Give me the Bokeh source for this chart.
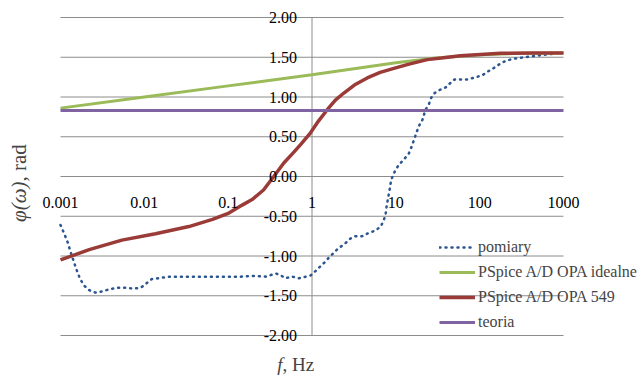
import math
from bokeh.plotting import figure
from bokeh.models import Range1d, Legend, LegendItem, Label, LabelSet, ColumnDataSource
from bokeh.core.properties import value
from bokeh.embed import file_html
from bokeh.resources import INLINE

# ---------------- data ----------------
pom_f = [0.001, 0.00112, 0.00123, 0.00131, 0.00144, 0.00155, 0.0017, 0.0019,
         0.0022, 0.0026, 0.003, 0.0035, 0.0042, 0.0049, 0.0059, 0.0074,
         0.0089, 0.01, 0.0112, 0.0123, 0.0148, 0.0195, 0.027, 0.037,
         0.05, 0.07, 0.1, 0.14, 0.2, 0.28, 0.37, 0.42,
         0.48, 0.58, 0.70, 0.84, 0.96, 1.10, 1.26, 1.45,
         1.59, 1.82, 2.03, 2.29, 2.63, 2.88, 3.3, 3.98,
         4.76, 5.72, 6.57, 7.07, 7.54, 7.75, 8.03, 8.48,
         8.81, 9.31, 9.91, 10.9, 12.4, 14.3, 15.5, 16.7,
         18.3, 19.7, 20.7, 22.6, 24.8, 26.4, 29.0, 33.5,
         39.2, 44.1, 50.1, 60.3, 71.1, 83.9, 97.8, 110,
         125, 145, 165, 191, 213, 252, 294, 344,
         405, 487, 584, 689, 805]
pom_phi = [-0.61, -0.73, -0.84, -0.94, -1.07, -1.17, -1.28, -1.37,
           -1.43, -1.46, -1.45, -1.43, -1.41, -1.40, -1.40, -1.41,
           -1.40, -1.37, -1.32, -1.29, -1.28, -1.26, -1.26, -1.26,
           -1.26, -1.26, -1.26, -1.26, -1.25, -1.26, -1.22, -1.24,
           -1.28, -1.26, -1.28, -1.26, -1.245, -1.19, -1.13, -1.07,
           -1.02, -0.96, -0.91, -0.87, -0.82, -0.78, -0.75, -0.75,
           -0.71, -0.68, -0.63, -0.57, -0.48, -0.38, -0.29, -0.15,
           -0.04, 0.02, 0.08, 0.15, 0.21, 0.29, 0.38, 0.48,
           0.60, 0.68, 0.71, 0.84, 0.91, 0.99, 1.05, 1.09,
           1.12, 1.17, 1.22, 1.22, 1.22, 1.24, 1.26, 1.28,
           1.32, 1.36, 1.40, 1.44, 1.46, 1.48, 1.49, 1.50,
           1.51, 1.52, 1.53, 1.54, 1.54]

ideal_f = [0.001, 0.01, 0.1, 1, 10, 30, 100, 300, 1000]
ideal_phi = [0.86, 1.00, 1.14, 1.28, 1.43, 1.49, 1.53, 1.55, 1.555]

opa_f = [0.001, 0.0022, 0.0054, 0.0136, 0.034, 0.065, 0.102, 0.147, 0.193,
         0.264, 0.35, 0.461, 0.6, 0.73, 0.96, 1.2, 1.52, 1.9, 2.4, 3.2,
         4.56, 6.5, 9.47, 14, 23.7, 35, 59, 177, 443, 1000]
opa_phi = [-1.05, -0.92, -0.80, -0.72, -0.63, -0.54, -0.46, -0.36, -0.29,
           -0.17, 0.00, 0.17, 0.30, 0.40, 0.55, 0.70, 0.84, 0.96, 1.05, 1.15,
           1.24, 1.31, 1.36, 1.41, 1.47, 1.49, 1.52, 1.55, 1.555, 1.555]

teoria_f = [0.001, 1000]
teoria_phi = [0.83, 0.83]

x_ticks = [0.001, 0.01, 0.1, 1, 10, 100, 1000]
x_tick_labels = ["0.001", "0.01", "0.1", "1", "10", "100", "1000"]
y_ticks = [2.0, 1.5, 1.0, 0.5, 0.0, -0.5, -1.0, -1.5, -2.0]
y_tick_labels = ["2.00", "1.50", "1.00", "0.50", "0.00", "-0.50", "-1.00", "-1.50", "-2.00"]

series_names = ["pomiary", "PSpice A/D OPA idealne", "PSpice A/D OPA 549", "teoria"]

X_MIN, X_MAX = 0.001, 1000
Y_MIN, Y_MAX = -2.0, 2.0
X_CROSS, Y_CROSS = 1, 0

FONT = "Liberation Serif"
GRID = "#8c8c8c"

# ---------------- layout (pixels) ----------------
W, H = 641, 376
PLOT_L, PLOT_R, PLOT_T, PLOT_B = 60, 563, 17, 335     # plot-area box inside canvas
px_per_dec = (PLOT_R - PLOT_L) / math.log10(X_MAX / X_MIN)
px_per_unit = (PLOT_B - PLOT_T) / (Y_MAX - Y_MIN)
x_lo = 10 ** (math.log10(X_MIN) - PLOT_L / px_per_dec)
x_hi = 10 ** (math.log10(X_MAX) + (W - PLOT_R) / px_per_dec)
y_lo = Y_MIN - (H - PLOT_B) / px_per_unit
y_hi = Y_MAX + PLOT_T / px_per_unit

p = figure(width=W, height=H, x_axis_type="log",
           x_range=Range1d(x_lo, x_hi), y_range=Range1d(y_lo, y_hi),
           x_axis_location=None, y_axis_location=None,
           min_border=0, output_backend="svg", toolbar_location=None)
p.outline_line_color = None
p.grid.visible = False

# gridlines and the vertical axis at f = 1
p.segment(x0=X_MIN, x1=X_MAX, y0=y_ticks, y1=y_ticks, line_color=GRID, line_width=1)
p.segment(x0=X_CROSS, x1=X_CROSS, y0=Y_MIN, y1=Y_MAX, line_color=GRID, line_width=1)

r_pom = p.line(pom_f, pom_phi, line_color="#2C5590", line_width=2.5,
               line_dash="1 5", line_cap="round")
r_ideal = p.line(ideal_f, ideal_phi, line_color="#9BBB59", line_width=3)
r_opa = p.line(opa_f, opa_phi, line_color="#9A3B38", line_width=3.5)
r_teo = p.line(teoria_f, teoria_phi, line_color="#8064A2", line_width=3)

# tick labels
ysrc = ColumnDataSource(dict(y=y_ticks, text=y_tick_labels))
p.add_layout(LabelSet(x=value(X_CROSS), y="y", text="text", source=ysrc,
                      x_offset=-15, text_align="right", text_baseline="middle",
                      text_font=value(FONT), text_font_size="16px",
                      text_color="#000000"))
xsrc = ColumnDataSource(dict(x=x_ticks, text=x_tick_labels))
p.add_layout(LabelSet(x="x", y=value(Y_CROSS), text="text", source=xsrc,
                      y_offset=-26, text_align="center", text_baseline="middle",
                      text_font=value(FONT), text_font_size="16px",
                      text_color="#000000"))

# axis titles (screen units from the canvas bottom-left)
p.add_layout(Label(x=18, y=195, x_units="screen", y_units="screen",
                   text="φ(ω)", angle=math.pi / 2, text_align="right",
                   text_baseline="middle", text_font=FONT,
                   text_font_style="italic", text_font_size="21px"))
p.add_layout(Label(x=18, y=195, x_units="screen", y_units="screen",
                   text=", rad", angle=math.pi / 2, text_align="left",
                   text_baseline="middle", text_font=FONT,
                   text_font_size="21px"))
p.add_layout(Label(x=282, y=12, x_units="screen", y_units="screen",
                   text="f", text_align="right", text_baseline="middle",
                   text_font=FONT, text_font_style="italic",
                   text_font_size="19px"))
p.add_layout(Label(x=282, y=12, x_units="screen", y_units="screen",
                   text=", Hz", text_align="left", text_baseline="middle",
                   text_font=FONT, text_font_size="19px"))

legend = Legend(items=[LegendItem(label=series_names[0], renderers=[r_pom]),
                       LegendItem(label=series_names[1], renderers=[r_ideal]),
                       LegendItem(label=series_names[2], renderers=[r_opa]),
                       LegendItem(label=series_names[3], renderers=[r_teo])],
                location=(439, 44), orientation="vertical",
                padding=0, margin=0, spacing=5,
                glyph_width=36, glyph_height=20, label_height=20,
                label_standoff=3, label_text_font=FONT,
                label_text_font_size="16px",
                background_fill_alpha=0, border_line_alpha=0)
p.add_layout(legend)

open("out.html", "w").write(file_html(p, INLINE))
